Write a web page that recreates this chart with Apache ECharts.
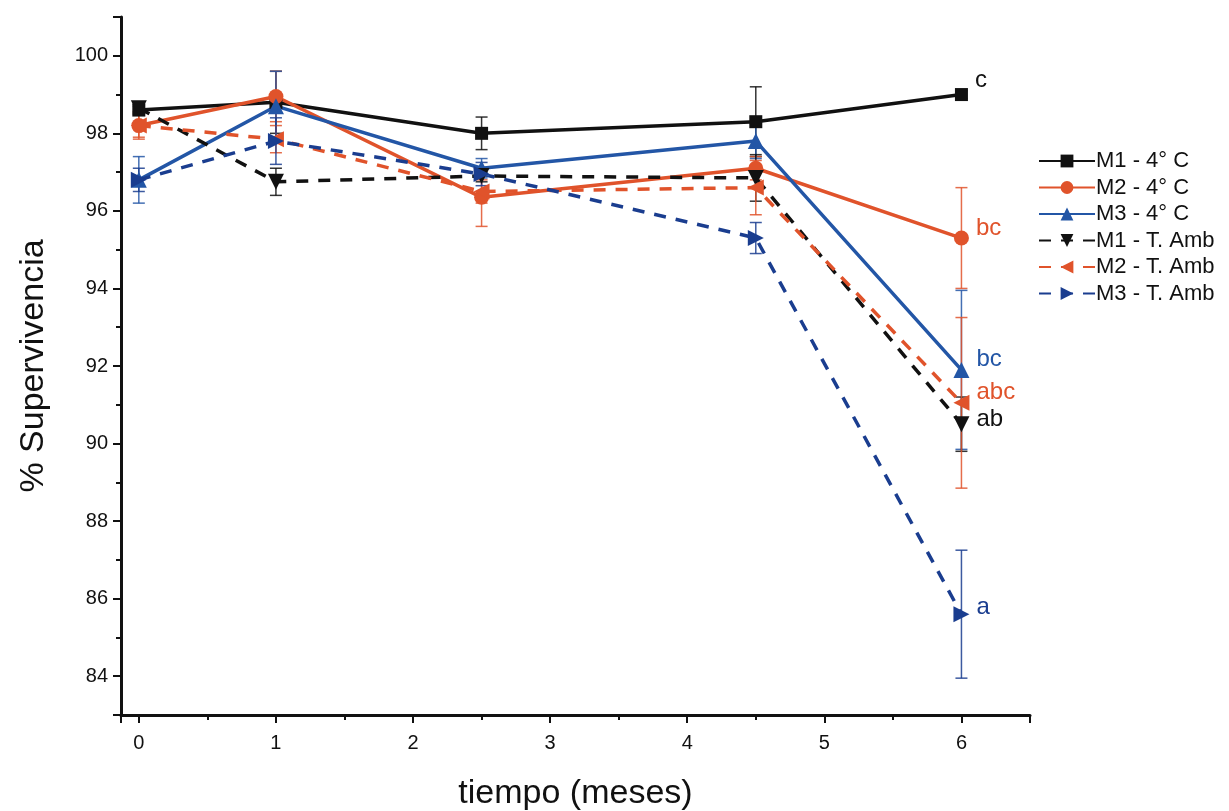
<!DOCTYPE html>
<html>
<head>
<meta charset="utf-8">
<script src="https://cdn.jsdelivr.net/npm/echarts@6/dist/echarts.min.js"></script>
<style>
  html, body { margin: 0; padding: 0; background: #fff; }
  #chart { width: 1229px; height: 811px; }
</style>
</head>
<body>
<div id="chart"></div>
<script>
// tiempo (meses) at which survival was measured
const xMeses = [0, 1, 2.5, 4.5, 6]

const seriesNames = ['M1 - 4° C', 'M2 - 4° C', 'M3 - 4° C', 'M1 - T. Amb', 'M2 - T. Amb', 'M3 - T. Amb']

const m1Frio = [98.6, 98.8, 98.0, 98.3, 99.0]
const m2Frio = [98.2, 98.95, 96.35, 97.1, 95.3]
const m3Frio = [96.8, 98.7, 97.1, 97.8, 91.9]
const m1Amb = [98.65, 96.75, 96.9, 96.85, 90.5]
const m2Amb = [98.2, 97.85, 96.5, 96.6, 91.05]
const m3Amb = [96.8, 97.8, 96.95, 95.3, 85.6]

const m1FrioErr = [0.1, 0.8, 0.42, 0.9, 0.1]
const m2FrioErr = [0.35, 0.65, 0.75, 0.3, 1.3]
const m3FrioErr = [0.6, 0.9, 0.25, 0.45, 2.05]
const m1AmbErr = [0.1, 0.35, 0.15, 0.6, 0.7]
const m2AmbErr = [0.3, 0.35, 0.3, 0.7, 2.2]
const m3AmbErr = [0.3, 0.6, 0.3, 0.4, 1.65]

// significance letters shown at 6 months
const letras = ['c', 'bc', 'bc', 'ab', 'abc', 'a']

const values = [m1Frio, m2Frio, m3Frio, m1Amb, m2Amb, m3Amb]
const errors = [m1FrioErr, m2FrioErr, m3FrioErr, m1AmbErr, m2AmbErr, m3AmbErr]

const BLACK = '#111111'
const RED = '#e0532b'
const BLUE = '#2356a6'
const DBLUE = '#1a3d8f'

const styles = [
  { color: BLACK, symbol: 'rect', size: 13, rotate: 0, dashed: false, labelDy: -14 },
  { color: RED, symbol: 'circle', size: 15, rotate: 0, dashed: false, labelDy: -10 },
  { color: BLUE, symbol: 'triangle', size: 16, rotate: 0, dashed: false, labelDy: -11 },
  { color: BLACK, symbol: 'triangle', size: 16, rotate: 180, dashed: true, labelDy: -5 },
  { color: RED, symbol: 'triangle', size: 16, rotate: 90, dashed: true, labelDy: -10 },
  { color: DBLUE, symbol: 'triangle', size: 16, rotate: -90, dashed: true, labelDy: -7 },
]

const FONT = '"Liberation Sans", Arial, sans-serif'

const chart = echarts.init(document.getElementById('chart'))

function errorBarSeries(i) {
  const st = styles[i]
  return {
    type: 'custom',
    name: seriesNames[i] + ' err',
    z: 1,
    silent: true,
    data: xMeses.map((x, k) => [x, values[i][k] - errors[i][k], values[i][k] + errors[i][k]]),
    renderItem: (params, api) => {
      const top = api.coord([api.value(0), api.value(2)])
      const bot = api.coord([api.value(0), api.value(1)])
      const w = 6
      const style = { stroke: st.color, lineWidth: 1.5, opacity: 0.85 }
      return {
        type: 'group',
        children: [
          { type: 'line', shape: { x1: top[0], y1: top[1], x2: bot[0], y2: bot[1] }, style },
          { type: 'line', shape: { x1: top[0] - w, y1: top[1], x2: top[0] + w, y2: top[1] }, style },
          { type: 'line', shape: { x1: bot[0] - w, y1: bot[1], x2: bot[0] + w, y2: bot[1] }, style },
        ],
      }
    },
  }
}

const lineSeries = seriesNames.map((name, i) => {
  const st = styles[i]
  return {
    name,
    type: 'line',
    z: 3,
    data: xMeses.map((x, k) => [x, values[i][k]]),
    symbol: st.symbol,
    symbolSize: st.size,
    symbolRotate: st.rotate,
    itemStyle: { color: st.color },
    lineStyle: { color: st.color, width: 3.5, type: st.dashed ? [12, 10] : 'solid' },
    label: {
      show: true,
      position: 'right',
      distance: 7,
      offset: [0, st.labelDy],
      color: st.color,
      fontSize: 24,
      fontFamily: FONT,
      formatter: p => (p.dataIndex === xMeses.length - 1 ? letras[i] : ''),
    },
  }
})

chart.setOption({
  backgroundColor: '#fff',
  animation: false,
  grid: { left: 121, right: 199, top: 17, bottom: 96, outerBoundsMode: 'none' },
  legend: {
    data: seriesNames,
    orient: 'vertical',
    left: 1033,
    top: 145,
    itemWidth: 56,
    itemHeight: 16,
    itemGap: 4.5,
    textStyle: { color: BLACK, fontSize: 22, fontFamily: FONT, padding: [0, 0, 0, -4] },
  },
  xAxis: {
    type: 'value',
    min: -0.13,
    max: 6.5,
    splitNumber: 7,
    name: 'tiempo (meses)',
    nameLocation: 'middle',
    nameGap: 62,
    nameMoveOverlap: false,
    nameTextStyle: { color: BLACK, fontSize: 34, fontFamily: FONT },
    axisLine: { onZero: false, lineStyle: { color: BLACK, width: 3 } },
    axisTick: { show: true, length: 8, lineStyle: { color: BLACK, width: 2 } },
    minorTick: { show: true, splitNumber: 2, length: 5, lineStyle: { color: BLACK, width: 2 } },
    axisLabel: { color: BLACK, fontSize: 20, fontFamily: FONT, margin: 18, showMinLabel: false, showMaxLabel: false },
    splitLine: { show: false },
  },
  yAxis: {
    type: 'value',
    min: 83,
    max: 101,
    splitNumber: 9,
    name: '% Supervivencia',
    nameLocation: 'middle',
    nameGap: 70,
    nameMoveOverlap: false,
    nameTextStyle: { color: BLACK, fontSize: 34, fontFamily: FONT },
    axisLine: { show: true, onZero: false, lineStyle: { color: BLACK, width: 3 } },
    axisTick: { show: true, length: 8, lineStyle: { color: BLACK, width: 2 } },
    minorTick: { show: true, splitNumber: 2, length: 5, lineStyle: { color: BLACK, width: 2 } },
    axisLabel: { color: BLACK, fontSize: 20, fontFamily: FONT, margin: 13, showMinLabel: false, showMaxLabel: false },
    splitLine: { show: false },
  },
  series: [...seriesNames.map((_, i) => errorBarSeries(i)), ...lineSeries],
})
</script>
</body>
</html>
